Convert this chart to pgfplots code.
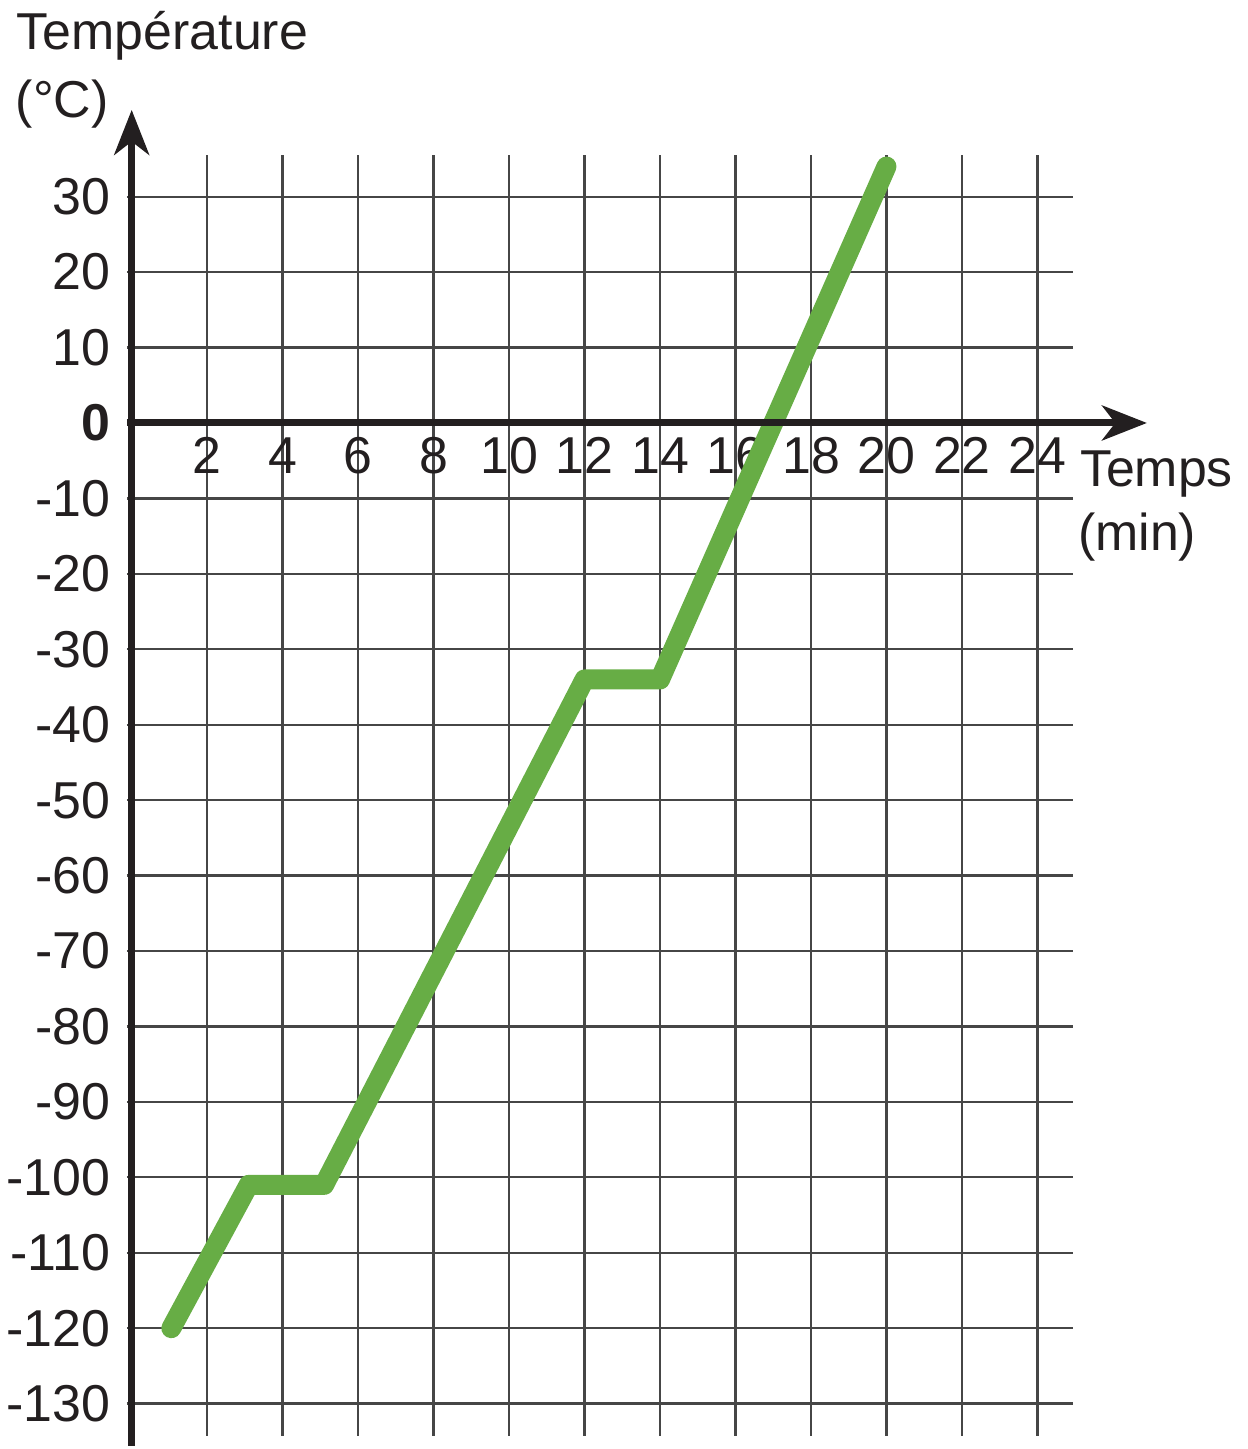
\documentclass[border=0pt]{standalone}
\usepackage{fontspec}
\setmainfont{Liberation Sans}
\usepackage{pgfplots}
\pgfplotsset{compat=1.18}
\usetikzlibrary{arrows.meta}
\definecolor{curvegreen}{RGB}{103,173,69}
\definecolor{gridgray}{RGB}{70,70,70}
\definecolor{axisblack}{RGB}{35,31,32}
\begin{document}
\begin{tikzpicture}
\begin{axis}[
  x=11.349pt, y=2.26845pt,
  xmin=-0.13, xmax=24.93, ymin=-134.23, ymax=35.57,
  axis lines=middle,
  axis line style={draw=none},
  set layers,
  clip=false,
  xtick={2,4,...,24},
  ytick={-130,-120,...,30},
  xticklabels={2,4,6,8,10,12,14,16,18,20,22,24},
  yticklabels={-130,-120,-110,-100,-90,-80,-70,-60,-50,-40,-30,-20,-10,\textbf{0},10,20,30},
  hide obscured x ticks=false, hide obscured y ticks=false,
  major tick length=0pt,
  grid=major,
  grid style={line width=0.7pt, gridgray},
  tick label style={font=\fontsize{15.6}{18}\selectfont, inner sep=0pt, text=axisblack},
  xticklabel style={anchor=north, yshift=-4.2pt},
  yticklabel style={anchor=east, xshift=-6.3pt},
  /pgf/number format/assume math mode=true,
]
\addplot[curvegreen, line width=6pt, line cap=round, line join=round]
  coordinates {(1.05,-120) (3.1,-101) (5.1,-101) (12,-34) (14,-34) (20,34)};
\begin{pgfonlayer}{axis foreground}
\draw[axisblack, line width=2.1pt, -{Stealth[length=13.5pt,width=10.5pt,inset=4pt]}]
  (axis cs:0,-135.55) -- (axis cs:0,41.5);
\draw[axisblack, line width=2.1pt, -{Stealth[length=13.5pt,width=10.5pt,inset=4pt]}]
  (axis cs:-0.13,0) -- (axis cs:26.9,0);
\end{pgfonlayer}
\node[anchor=base west, inner sep=0pt, text=axisblack, font=\fontsize{15.6}{18}\selectfont] at (axis cs:-3.06,49.46) {Température};
\node[anchor=base west, inner sep=0pt, text=axisblack, font=\fontsize{15.6}{18}\selectfont] at (axis cs:-3.09,40.47) {(°C)};
\node[anchor=base west, inner sep=0pt, text=axisblack, font=\fontsize{15.6}{18}\selectfont] at (axis cs:25.11,-8.46) {Temps};
\node[anchor=base west, inner sep=0pt, text=axisblack, font=\fontsize{15.6}{18}\selectfont] at (axis cs:25.06,-16.93) {(min)};
\path (axis cs:-3.4893,56.073) rectangle (axis cs:29.553,-135.555);
\end{axis}
\end{tikzpicture}
\end{document}
